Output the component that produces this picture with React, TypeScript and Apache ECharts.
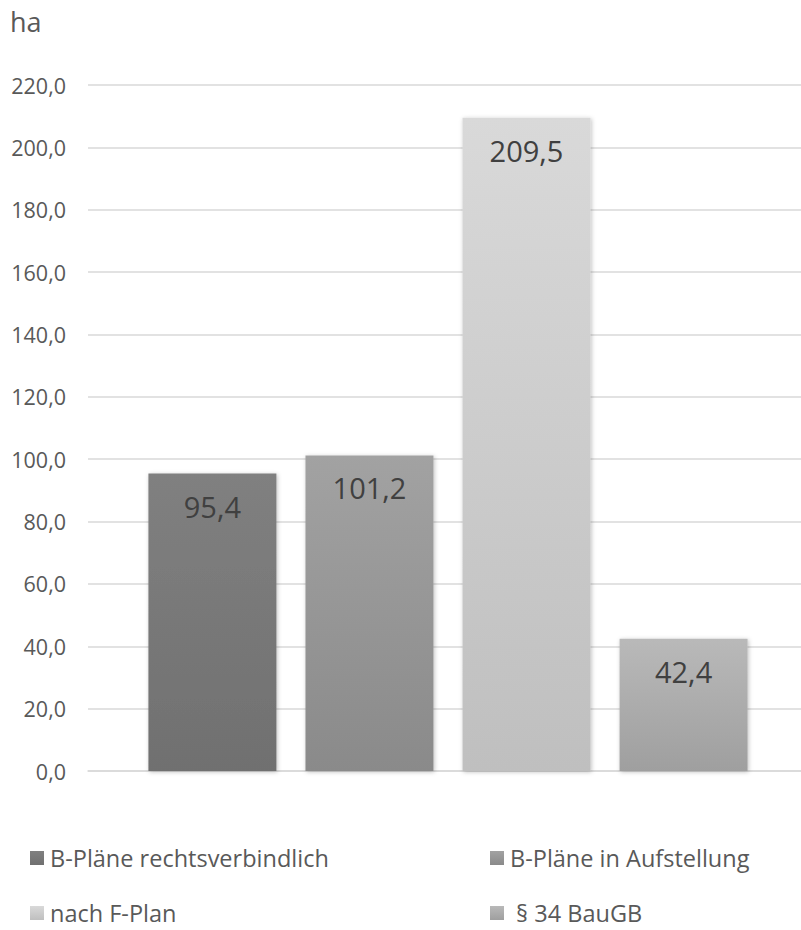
import React, { useEffect, useRef } from "react";
import * as echarts from "echarts";

const seriesNames = ["B-Pläne rechtsverbindlich", "B-Pläne in Aufstellung", "nach F-Plan", " § 34 BauGB"];
const seriesValues = [95.4, 101.2, 209.5, 42.4];
const topColors = ["#808080", "#a2a2a2", "#d9d9d9", "#b9b9b9"];
const bottomColors = ["#707070", "#8a8a8a", "#bfbfbf", "#9f9f9f"];
const yTicks = [0, 20, 40, 60, 80, 100, 120, 140, 160, 180, 200, 220];

const fmt = (v: number) => v.toFixed(1).replace(".", ",");
const FONT = "'Open Sans', 'Noto Sans', sans-serif";

export default function App() {
  const ref = useRef<HTMLDivElement>(null);
  useEffect(() => {
    const chart = echarts.init(ref.current!, undefined, { renderer: "svg" });
    const legendPos = [
      { left: 30, top: 846 },
      { left: 490, top: 846 },
      { left: 30, top: 901 },
      { left: 490, top: 901 },
    ];
    chart.setOption({
      animation: false,
      backgroundColor: "#ffffff",
      textStyle: { fontFamily: FONT },
      grid: { left: 88, right: 0, top: 85, bottom: 930 - 771 },
      graphic: [
        {
          type: "text",
          left: 10,
          top: 8,
          style: { text: "ha", fontSize: 27, fill: "#595959", fontFamily: FONT },
        },
      ],
      legend: seriesNames.map((n, i) => ({
        data: [n],
        left: legendPos[i].left,
        top: legendPos[i].top,
        padding: 0,
        itemWidth: 14,
        itemHeight: 14,
        itemGap: 0,
        icon: "rect",
        textStyle: { fontSize: 23.5, color: "#595959", fontFamily: FONT, padding: [0, 0, 0, 1] },
      })),
      xAxis: {
        type: "category",
        data: [""],
        axisLine: { show: true, lineStyle: { color: "#d9d9d9", width: 1.5 } },
        axisTick: { show: false },
        axisLabel: { show: false },
      },
      yAxis: {
        type: "value",
        min: yTicks[0],
        max: yTicks[yTicks.length - 1],
        interval: 20,
        axisLine: { show: false },
        axisTick: { show: false },
        axisLabel: {
          formatter: (v: number) => fmt(v),
          fontSize: 21.5,
          color: "#595959",
          margin: 22,
          fontFamily: FONT,
        },
        splitLine: { lineStyle: { color: "#d9d9d9", width: 1.5 } },
      },
      series: seriesNames.map((n, i) => ({
        type: "bar",
        name: n,
        data: [seriesValues[i]],
        barWidth: 128,
        barGap: "22.7%",
        itemStyle: {
          color: new echarts.graphic.LinearGradient(0, 0, 0, 1, [
            { offset: 0, color: topColors[i] },
            { offset: 1, color: bottomColors[i] },
          ]),
          shadowBlur: 4,
          shadowColor: "rgba(0,0,0,0.25)",
          shadowOffsetX: 1,
          shadowOffsetY: 1,
        },
        label: {
          show: true,
          position: "insideTop",
          distance: 18,
          formatter: (p: any) => fmt(p.value),
          fontSize: 29,
          color: "#404040",
          fontFamily: FONT,
        },
      })),
    });
    return () => chart.dispose();
  }, []);
  return (
    <div
      style={{ position: "absolute", left: 0, top: 0, width: 801, height: 930, overflow: "hidden" }}
    >
      <div ref={ref} style={{ width: 808, height: 930 }} />
    </div>
  );
}
